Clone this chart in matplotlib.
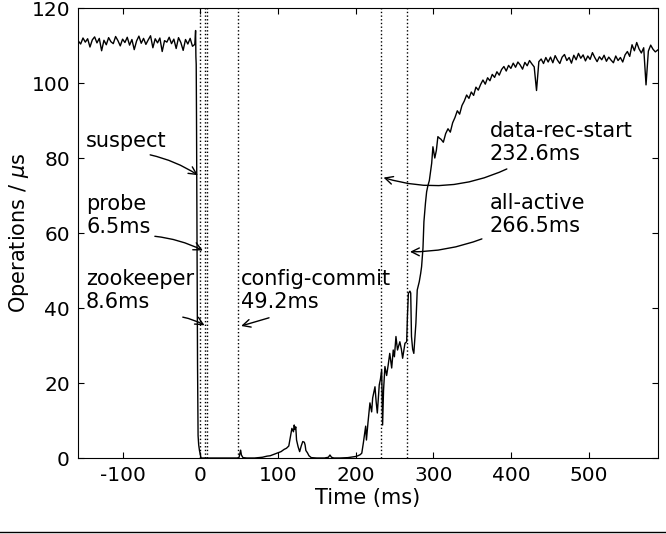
import numpy as np
import matplotlib
matplotlib.use("Agg")
import matplotlib.pyplot as plt
from matplotlib.lines import Line2D

plt.rcParams["axes.unicode_minus"] = False

# steady state before the failure (sampled every 3 ms from -157)
base_start = -157
base_ops = [111.2, 110.4, 112.0, 110.9, 111.8, 109.6, 111.5, 112.3, 110.7, 111.9,
            108.6, 111.4, 110.2, 112.1, 111.0, 110.5, 112.4, 111.3, 109.9, 111.7,
            110.8, 112.2, 110.1, 111.6, 108.9, 111.2, 112.5, 110.6, 111.9, 110.3,
            111.5, 112.6, 109.4, 111.8, 110.7, 112.0, 108.4, 111.3, 110.9, 112.2,
            110.5, 111.7, 109.2, 112.1, 110.8, 108.7, 111.6, 110.4, 111.9, 109.8,
            110.3]

# the crash
drop_t = [-6, -5.6, -5.2, -4.8, -4.2, -3.5, -2.8, -2, -1, 0, 1]
drop_ops = [114, 107, 105, 90, 60, 25, 6, 3.5, 2, 1, 0]

# outage
outage_t = [2, 48, 50, 51, 52, 53, 55, 60, 70, 80,
            86, 90, 95, 100, 104, 108, 111, 114, 116, 118,
            120, 121, 122, 123, 124, 126, 128, 130, 132, 134,
            135, 136, 138, 140, 143, 150, 160, 165, 167, 169,
            172, 180, 190, 197, 200, 203, 206, 208]
outage_ops = [0, 0, 0.2, 1.2, 2.1, 0.8, 0.1, 0, 0, 0.2,
              0.5, 0.6, 1.0, 1.4, 1.7, 2.3, 2.6, 3.2, 5.5, 7.9,
              7.0, 8.8, 7.6, 8.3, 4.8, 3.0, 1.7, 3.2, 4.4, 4.2,
              3.5, 2.0, 1.4, 0.6, 0.1, 0, 0, 0.2, 0.8, 0.2,
              0, 0, 0.1, 0.3, 0.4, 0.6, 0.9, 1.3]

# recovery ramp
ramp_t = [210, 212, 213, 214, 216, 218.5, 220.7, 222, 225, 226.5,
          228, 230.5, 232, 233.6, 234.8, 236, 237.8, 240, 242, 244,
          246.5, 248.5, 250, 252, 254, 257, 259, 260.6, 263.6, 265.8,
          266.8, 268, 270, 271, 272, 273.5, 275, 277.7, 279.4, 282,
          283.8, 285, 286.8, 288, 290, 291.5, 293, 295, 298, 299.6,
          302, 304, 306, 308]
ramp_ops = [4.0, 7.0, 8.5, 4.8, 9.5, 14.7, 12.3, 16, 19, 15,
            12, 19.5, 21, 23.5, 8.8, 18, 24.4, 22, 24.8, 27.9,
            24, 28.8, 27, 32.4, 28.8, 31, 29, 26.6, 30.6, 31,
            38, 43.9, 44.5, 44, 32.4, 29, 27.9, 36, 44.8, 47,
            49.2, 51, 56, 63, 68, 71, 72.5, 74, 78.6, 83,
            80, 82, 85.7, 85.3]

# back to steady state (every 3 ms from 310)
tail_start = 310
tail_ops = [85.0, 84.2, 86.5, 87.8, 86.9, 89.4, 90.8, 92.6, 91.7, 94.0,
            95.2, 96.8, 95.9, 97.6, 96.7, 98.9, 98.1, 99.6, 100.8, 99.7,
            101.4, 100.6, 102.3, 101.5, 103.0, 102.1, 103.6, 104.4, 103.2, 104.7,
            103.9, 105.3, 104.2, 105.6, 104.8, 103.7, 105.5, 104.6, 106.0, 105.1,
            104.3, 98.0, 105.7, 106.4, 105.2, 106.8, 105.6, 106.9, 105.4, 107.3,
            106.1, 105.2, 106.9, 107.6, 106.0, 106.8, 105.3, 107.4, 106.2, 107.9,
            106.6, 107.5, 105.9, 107.2, 106.3, 108.1, 106.8, 105.7, 107.0, 106.2,
            107.4, 105.8, 106.9, 106.1, 105.4, 107.2, 106.0, 106.8, 105.6, 107.5,
            108.4, 107.1, 110.2, 108.6, 110.8, 109.1, 108.0, 109.4, 99.5, 108.5,
            110.1, 109.0, 108.3, 108.8]

event_ms = [0, 6.5, 8.6, 49.2, 232.6, 266.5]
event_labels = ["suspect", "probe\n6.5ms", "zookeeper\n8.6ms",
                "config-commit\n49.2ms", "data-rec-start\n232.6ms",
                "all-active\n266.5ms"]

base_t = base_start + 3 * np.arange(len(base_ops))
tail_t = tail_start + 3 * np.arange(len(tail_ops))
t = np.concatenate([base_t, drop_t, outage_t, ramp_t, tail_t])
ops = np.concatenate([base_ops, drop_ops, outage_ops, ramp_ops, tail_ops])

fig = plt.figure(figsize=(6.66, 5.34), dpi=100)
ax = fig.add_axes([0.1176, 0.1423, 0.8699, 0.8427])

ax.plot(t, ops, color="k", lw=1.0)
for ms in event_ms:
    ax.axvline(ms, color="k", ls=":", lw=1.0)

# text spot, arrow tail, arrow tip height, curvature
spots = [(-147, 87.2), (-147, 70.4), (-147, 50.4), (52.5, 50.4), (372.6, 89.9), (372.6, 70.7)]
tails = [(-68, 81), (-62, 59.2), (-26, 37.7), (92, 37.6), (398, 77.4), (366, 58.7)]
tip_y = [75, 55, 35, 35, 75, 55]
rads = [-0.1, -0.1, -0.1, 0.0, -0.2, -0.1]
for lab, ms, sp, tl, ty, rd in zip(event_labels, event_ms, spots, tails, tip_y, rads):
    ax.text(sp[0], sp[1], lab, fontsize=15, ha="left", va="top", linespacing=1.2)
    ax.annotate("", xy=(ms, ty), xytext=tl,
                arrowprops=dict(arrowstyle="->", color="k", lw=1.0,
                                mutation_scale=14,
                                connectionstyle="arc3,rad=%s" % rd))

ax.set_xlim(-157, 589)
ax.set_ylim(0, 120)
ax.set_xticks([-100, 0, 100, 200, 300, 400, 500])
ax.set_yticks([0, 20, 40, 60, 80, 100, 120])
ax.tick_params(direction="in", top=True, right=True, length=4, labelsize=14.5, pad=6)
ax.set_xlabel("Time (ms)", fontsize=15, labelpad=2)
ax.set_ylabel(r"Operations / $\mu$s", fontsize=15, labelpad=0)

fig.add_artist(Line2D([0, 1], [0.004, 0.004], transform=fig.transFigure, color="k", lw=1.0))

plt.savefig("out.png", format="png")
plt.close()
